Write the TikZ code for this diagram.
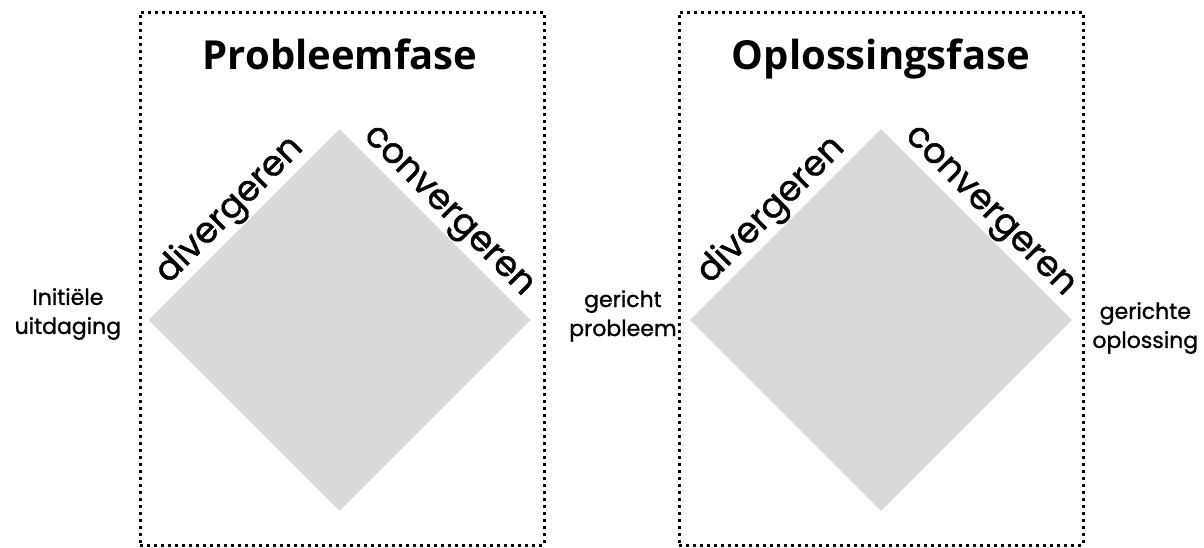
\documentclass[tikz,border=0pt]{standalone}
\usepackage{fontspec}
\setmainfont{Poppins}
\newfontfamily\titlefont{Open Sans}
\newfontfamily\stepfont{Poppins}[FakeBold=1.2]
\usetikzlibrary{shapes.geometric,positioning,calc}
\definecolor{diamondgray}{RGB}{217,217,217}
\begin{document}
\begin{tikzpicture}[x=1pt,y=-1pt,
        phasebox/.style={draw=black,line width=3pt,dash pattern=on 3pt off 4pt,
            minimum width=404pt,minimum height=533pt,inner sep=0pt},
        phasediamond/.style={diamond,fill=diamondgray,shape aspect=1,minimum size=382pt,inner sep=0pt},
        phasetitle/.style={font=\titlefont\bfseries\fontsize{40}{46}\selectfont,inner sep=0pt},
        steplabel/.style={font=\stepfont\fontsize{35.5}{38}\selectfont,inner sep=1pt},
        sidelabel/.style={font=\stepfont\fontsize{22}{29}\selectfont,align=center,inner sep=0pt}]
        \useasboundingbox (0,0) rectangle (1204,547);
        % probleemfase
        \node [phasebox] (lbox) at (342,278.5) {};
        \node [phasediamond] (ld) at (339.5,320) {};
        \node [phasetitle,below=28pt of lbox.north,xshift=-2pt] (ltitle) {Probleemfase};
        \node [steplabel,rotate=45,anchor=south] (ldiv) at ($(ld.west)!0.5!(ld.north)$) {divergeren};
        \node [steplabel,rotate=-45,anchor=south] (lconv) at ($(ld.north)!0.5!(ld.east)$) {convergeren};
        \node [sidelabel,anchor=east] (start) at ([xshift=-27pt,yshift=6pt]ld.west) {Initiële\\uitdaging};
        % oplossingsfase
        \node [phasebox] (rbox) at (881,278.5) {};
        \node [phasediamond] (rd) at (881,320) {};
        \node [phasetitle,below=28pt of rbox.north] (rtitle) {Oplossingsfase};
        \node [steplabel,rotate=45,anchor=south] (rdiv) at ($(rd.west)!0.5!(rd.north)$) {divergeren};
        \node [steplabel,rotate=-45,anchor=south] (rconv) at ($(rd.north)!0.5!(rd.east)$) {convergeren};
        \node [sidelabel,anchor=east] (mid) at ([xshift=-13pt,yshift=4pt]rd.west) {gericht\\probleem};
        \node [sidelabel,anchor=west] (end) at ([xshift=20pt,yshift=-8pt]rd.east) {gerichte\\oplossing};
\end{tikzpicture}
\end{document}
